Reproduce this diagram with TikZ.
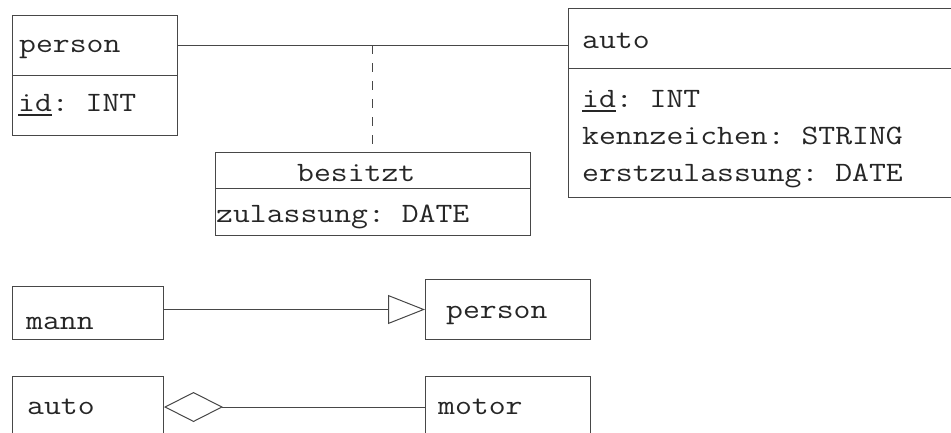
\documentclass[tikz,border=0pt]{standalone}
\usepackage{fontspec}
\usetikzlibrary{arrows.meta,calc}
\newcommand{\uln}[1]{\setbox0\hbox{#1}\rlap{\rule[-5pt]{\wd0}{2.2pt}}\box0}
\begin{document}
\frenchspacing
\begin{tikzpicture}[x=1pt,y=-1pt,
  ink/.style={draw=black!72,line width=1pt},
  box/.style={ink,rectangle,inner sep=0pt,anchor=north west},
  lbl/.style={anchor=base west,inner sep=0pt,xscale=1.17,transform shape,font=\fontsize{28}{28}\selectfont\ttfamily\frenchspacing,text=black!85},
  conn/.style={ink}]
\useasboundingbox (0,0) rectangle (951,432);
% top left person
\node[box,minimum width=165pt,minimum height=120pt] (person) at (12,15) {};
\draw[ink] (12,75.5) -- (177,75.5);
\node[lbl] (personT) at (19,52) {person};
\node[lbl] (personA) at (18,111) {\uln{id}: INT};
% auto
\node[box,minimum width=390pt,minimum height=189pt] (auto) at (568,8) {};
\draw[ink] (568,68.5) -- (958,68.5);
\node[lbl] (autoT) at (582,48) {auto};
\node[lbl] (autoA) at (582,107) {\uln{id}: INT};
\node[lbl] (autoB) at (582,144) {kennzeichen: STRING};
\node[lbl] (autoC) at (582,181) {erstzulassung: DATE};
% besitzt
\node[box,minimum width=315pt,minimum height=83pt] (bes) at (215,152) {};
\draw[ink] (215,188) -- (530,188);
\node[lbl] (besT) at (297,181) {besitzt};
\node[lbl] (besA) at (216,222) {zulassung: DATE};
% association
\coordinate (pa) at ([yshift=-30pt]person.north east);
\coordinate (aa) at (auto.west |- pa);
\draw[conn] (pa) -- (aa);
\coordinate (mid) at (372,0);
\coordinate (assoc) at (mid |- pa);
\draw[conn,dash pattern=on 9pt off 9pt] (assoc) -- (assoc |- bes.north);
% generalization
\node[box,minimum width=151pt,minimum height=53pt] (mann) at (12,286) {};
\node[lbl] (mannT) at (26,329) {mann};
\node[box,minimum width=165pt,minimum height=60pt] (person2) at (425,279) {};
\node[lbl] (person2T) at (446,318) {person};
\draw[conn,-{Triangle[open,length=37pt,width=29pt]}] (mann.east |- person2.west) -- (person2.west);
% aggregation
\node[box,minimum width=151pt,minimum height=80pt] (auto2) at (12,376) {};
\node[lbl] (auto2T) at (27,414) {auto};
\node[box,minimum width=165pt,minimum height=80pt] (motor) at (425,376) {};
\node[lbl] (motorT) at (438,414) {motor};
\coordinate (ag) at ([yshift=-31pt]auto2.north east);
\draw[conn,{Diamond[open,length=59pt,width=30pt]}-] (ag) -- (motor.west |- ag);
\end{tikzpicture}
\end{document}
